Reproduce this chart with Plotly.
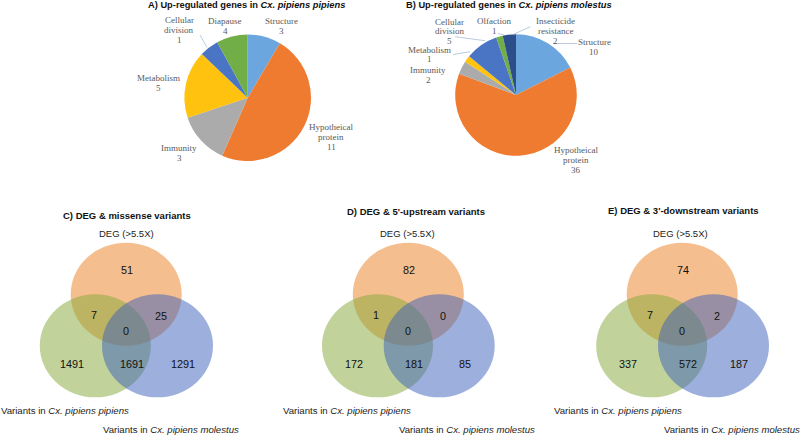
import plotly.graph_objects as go

W, H = 800, 437

# ---------------- data ----------------
pie_a_labels = ["Structure", "Hypotheical protein", "Immunity", "Metabolism", "Cellular division", "Diapause"]
pie_a_counts = [3, 11, 3, 5, 1, 4]
# slice sizes as drawn in the reference (percent of the circle)
pie_a_share = [8.5, 48.1, 13.3, 17.2, 4.9, 8.0]

pie_b_labels = ["Structure", "Hypotheical protein", "Immunity", "Metabolism", "Cellular division",
                "Olfaction", "Insecticide resistance"]
pie_b_counts = [10, 36, 2, 1, 5, 1, 2]

venn_titles = ["C) DEG & missense variants", "D) DEG & 5'-upstream variants", "E) DEG & 3'-downstream variants"]
# region order: DEG only, DEG∩pipiens, DEG∩molestus, all three, pipiens only, pipiens∩molestus, molestus only
venn_values = [
    [51, 7, 25, 0, 1491, 1691, 1291],
    [82, 1, 0, 0, 172, 181, 85],
    [74, 7, 2, 0, 337, 572, 187],
]
set_labels = ["DEG (>5.5X)", "Variants in <i>Cx. pipiens pipiens</i>", "Variants in <i>Cx. pipiens molestus</i>"]

# ---------------- styling ----------------
pie_a_colors = ["#6BA6DE", "#EE7B30", "#ABABAB", "#FFC20E", "#4A74C4", "#72AE48"]
pie_b_colors = ["#6BA6DE", "#EE7B30", "#ABABAB", "#FFC20E", "#4A74C4", "#72AE48", "#2C4F8C"]


def X(px):
    return px / W


def Y(py):
    return 1 - py / H


fig = go.Figure()


def add_pie(cx, cy, r, values, labels, colors):
    fig.add_trace(go.Pie(
        values=values, labels=labels, sort=False, direction="clockwise", rotation=0,
        textinfo="none", hoverinfo="label+value",
        marker=dict(colors=colors, line=dict(width=0)),
        domain=dict(x=[X(cx - r), X(cx + r)], y=[Y(cy + r), Y(cy - r)]),
        showlegend=False,
    ))


add_pie(247.7, 97.7, 63.3, pie_a_share, pie_a_labels, pie_a_colors)
add_pie(516, 95, 60.8, pie_b_counts, pie_b_labels, pie_b_colors)

annotations = []
shapes = []

SERIF = "Liberation Serif, Times New Roman, serif"
SANS = "Liberation Sans, Arial, sans-serif"


def text(x, y, s, size=9, color="#222", family=SANS, anchor="center"):
    annotations.append(dict(x=X(x), y=Y(y), xref="paper", yref="paper", text=s, showarrow=False,
                            xanchor=anchor, yanchor="middle", borderpad=0,
                            font=dict(size=size, color=color, family=family)))


def pie_label(x, y, lines, dy=10):
    for i, ln in enumerate(lines):
        text(x, y + i * dy, ln, size=9, color="#595959", family=SERIF)


def line(x0, y0, x1, y1, color="#A9BCD8"):
    shapes.append(dict(type="line", xref="paper", yref="paper", x0=X(x0), y0=Y(y0), x1=X(x1), y1=Y(y1),
                       line=dict(color=color, width=0.8)))


# titles of pies
text(246, 5, "<b>A) Up-regulated genes in <i>Cx. pipiens pipiens</i></b>", size=9.3, color="#111")
text(509, 5, "<b>B) Up-regulated genes in <i>Cx. pipiens molestus</i></b>", size=9.3, color="#111")

# pie A labels
pie_label(281.7, 20.7, ["Structure", str(pie_a_counts[0])])
pie_label(331, 127, ["Hypotheical", "protein", str(pie_a_counts[1])])
pie_label(179, 148, ["Immunity", str(pie_a_counts[2])])
pie_label(158.7, 78, ["Metabolism", str(pie_a_counts[3])])
pie_label(179, 20, ["Cellular", "division", str(pie_a_counts[4])])
pie_label(225, 20.7, ["Diapause", str(pie_a_counts[5])])
line(200, 35, 207, 47.5)

# pie B labels
pie_label(594, 41.7, ["Structure", str(pie_b_counts[0])])
pie_label(576, 150, ["Hypotheical", "protein", str(pie_b_counts[1])])
pie_label(428, 70, ["Immunity", str(pie_b_counts[2])])
pie_label(429, 49.5, ["Metabolism", str(pie_b_counts[3])])
pie_label(449.5, 21.5, ["Cellular", "division", str(pie_b_counts[4])], dy=9.8)
pie_label(494, 20.5, ["Olfaction", str(pie_b_counts[5])])
pie_label(555, 20.7, ["Insecticide", "resistance", str(pie_b_counts[6])])
line(455, 36.7, 485, 40.7)
line(453, 54.5, 470, 51.7)
line(498, 33.5, 504, 35)
line(530.5, 26.7, 513.5, 34.3)
line(553, 43.5, 577, 43.5)

# ---------------- Venn diagrams ----------------
venn_geo = [
    dict(tx=126.7, ty=215.7, dx=126.7, o=126.2, g=95.3, b=157.5, pl=0, ml=101.7),
    dict(tx=415.5, ty=211, dx=407.3, o=408.3, g=377.5, b=439.2, pl=281.7, ml=398.3),
    dict(tx=683, ty=210, dx=680, o=682.2, g=651.7, b=713.5, pl=553.3, ml=663.3),
]
RX, RY = 55.5, 51.5
CY_TOP, CY_BOT = 294.2, 345.8
circle_fill = ["rgba(235,125,29,0.5)", "rgba(131,167,55,0.5)", "rgba(59,95,185,0.5)"]

# number offsets relative to orange circle centre x (from the picture)
num_dx = [1, -32.3, 35, 0, -54, 5.5, 57]
num_y = [270, 314.5, 316, 330.5, 363.5, 363.5, 363.5]

for gi, (g, vals, title) in enumerate(zip(venn_geo, venn_values, venn_titles)):
    for cx, cy, col in [(g["o"], CY_TOP, circle_fill[0]), (g["g"], CY_BOT, circle_fill[1]),
                        (g["b"], CY_BOT, circle_fill[2])]:
        shapes.append(dict(type="circle", xref="paper", yref="paper",
                           x0=X(cx - RX), x1=X(cx + RX), y0=Y(cy + RY), y1=Y(cy - RY),
                           fillcolor=col, line=dict(width=0), layer="above"))
    text(g["tx"], g["ty"], "<b>" + title + "</b>", size=9.5, color="#111")
    text(g["dx"], 233.3, set_labels[0], size=9.5, color="#222")
    text(g["pl"], 410.7, set_labels[1], size=9.6, color="#222", anchor="left")
    text(g["ml"], 429, set_labels[2], size=9.6, color="#222", anchor="left")
    for v, ddx, yy in zip(vals, num_dx, num_y):
        text(g["o"] + ddx, yy, str(v), size=10.8, color="#111")

fig.update_layout(
    width=W, height=H, margin=dict(l=0, r=0, t=0, b=0),
    paper_bgcolor="white", plot_bgcolor="white",
    annotations=annotations, shapes=shapes,
)

fig.write_html("out.html", config={"displayModeBar": False},
               post_script="document.body.style.margin='0px';document.body.style.overflow='hidden';")
